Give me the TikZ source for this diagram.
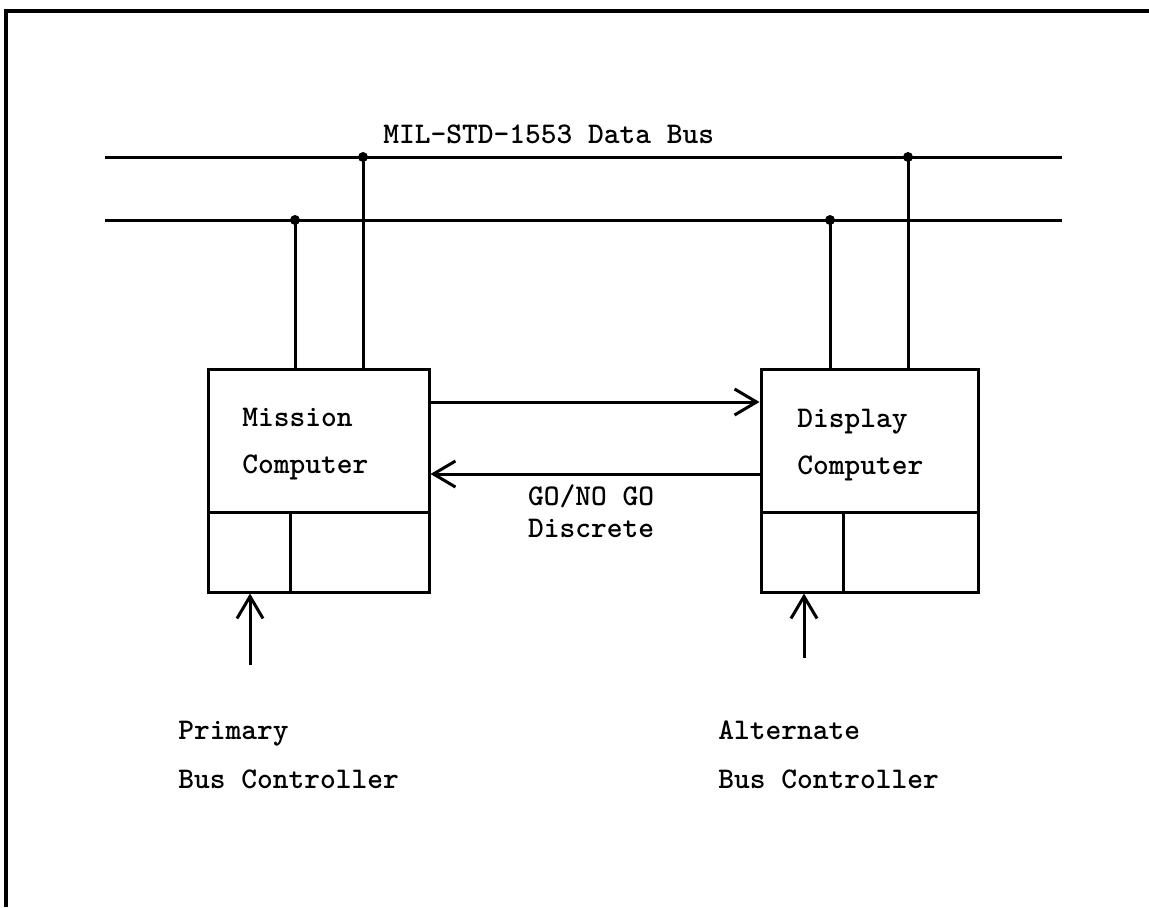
\documentclass[tikz,border=0pt]{standalone}
\usepackage{fontspec}
\newfontfamily\twfont{lmmonolt10-bold.otf}
\usetikzlibrary{arrows.meta}
\tikzset{
  wire/.style={line width=1.5pt},
  box/.style={draw, line width=1.5pt, inner sep=0pt, minimum height=71.5pt},
  sub/.style={draw, line width=1.5pt, inner sep=0pt, minimum height=40pt},
  arr/.style={line width=1.5pt, -{Straight Barb[length=11pt,width=13pt,line width=1.5pt]}},
  lbl/.style={font=\twfont\fontsize{15}{17}\selectfont, inner sep=0pt},
  tap/.style={circle, fill, inner sep=0pt, minimum size=5pt}
}
\begin{document}
\begin{tikzpicture}[x=0.5pt,y=-0.5pt]
\useasboundingbox (0,0) rectangle (1149,907);
% frame
\draw[line width=1.6pt] (6,907) -- (6,11) -- (1149,11);
% bus lines
\coordinate (aL) at (105,157); \coordinate (aR) at (1062,157);
\coordinate (bL) at (105,220); \coordinate (bR) at (1062,220);
\draw[wire] (aL) -- (aR);
\draw[wire] (bL) -- (bR);
\node[lbl, anchor=base west] (title) at (383,143) {MIL-STD-1553 Data Bus};
% boxes
\node[box, minimum width=110.5pt] (mcu) at (318.5,440.5) {};
\node[sub, minimum width=41pt] (mcl) at (249,552) {};
\node[sub, minimum width=69.5pt] (mcr) at (359.5,552) {};
\node[box, minimum width=108.5pt] (dcu) at (869.5,440.5) {};
\node[sub, minimum width=41pt] (dcl) at (802,552) {};
\node[sub, minimum width=67.5pt] (dcr) at (910.5,552) {};
\node[lbl, anchor=base west] (mt1) at (242,426) {Mission};
\node[lbl, anchor=base west] (mt2) at (242,473) {Computer};
\node[lbl, anchor=base west] (dt1) at (797,427) {Display};
\node[lbl, anchor=base west] (dt2) at (797,474) {Computer};
% taps
\node[tap] (t1) at (363,157) {};
\node[tap] (t2) at (295,220) {};
\node[tap] (t3) at (908,157) {};
\node[tap] (t4) at (830,220) {};
\draw[wire] (t1.center) -- (t1 |- mcu.north);
\draw[wire] (t2.center) -- (t2 |- mcu.north);
\draw[wire] (t3.center) -- (t3 |- dcu.north);
\draw[wire] (t4.center) -- (t4 |- dcu.north);
% horizontal arrows
\coordinate (h1) at (0,402);
\coordinate (h2) at (0,474);
\draw[arr] (mcu.east |- h1) -- (dcu.west |- h1);
\draw[arr] (dcu.west |- h2) -- (mcu.east |- h2);
\node[lbl, anchor=base] (go1) at (591,505) {GO/NO GO};
\node[lbl, anchor=base] (go2) at (591,537) {Discrete};
% input arrows
\coordinate (p1) at (250,665);
\coordinate (p2) at (804,658);
\draw[arr] (p1) -- (p1 |- mcl.south);
\draw[arr] (p2) -- (p2 |- dcl.south);
\node[lbl, anchor=base west] (pb1) at (178,739) {Primary};
\node[lbl, anchor=base west] (pb2) at (178,788) {Bus Controller};
\node[lbl, anchor=base west] (ab1) at (718,739) {Alternate};
\node[lbl, anchor=base west] (ab2) at (718,788) {Bus Controller};
\end{tikzpicture}
\end{document}
